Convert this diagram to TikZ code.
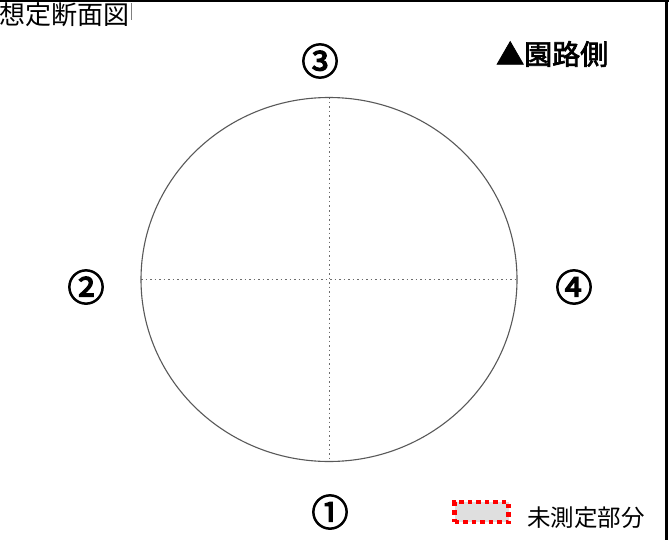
\documentclass[tikz,border=0pt]{standalone}
\usepackage{fontspec}
\newfontfamily\cjk[AutoFakeBold=2.5]{Noto Sans CJK JP}
\newfontfamily\cjkb[FakeBold=2.5]{Noto Sans CJK JP}
\newfontfamily\cjkn[FakeBold=3.5]{Noto Sans CJK JP}
\begin{document}
\begin{tikzpicture}[x=1pt,y=-1pt,
  num/.style={font=\cjkn\fontsize{37}{37}\selectfont, inner sep=0pt},
  axis/.style={draw=gray!85!black, line width=1pt, dash pattern=on 1.5pt off 3pt},
  rim/.style={draw=gray!70!black, line width=1.1pt}]
\useasboundingbox (0,0) rectangle (669,540);
\fill[white] (0,0) rectangle (669,540);
% frame pieces
\draw[black, line width=2.5pt] (0,1) -- (669,1);
\draw[black, line width=3pt] (666.5,0) -- (666.5,540);
\draw[gray, line width=1pt] (131,3) -- (131,20);
% title
\node[anchor=west, inner sep=0pt, font=\cjk\fontsize{26}{26}\selectfont] (title) at (-1,15) {想定断面図};
\node[anchor=west, inner sep=0pt, font=\cjkb\fontsize{28}{28}\selectfont] (side) at (496,54) {▲園路側};
% circle and axes
\coordinate (c) at (329,279.5);
\coordinate (t) at (329,97.5);
\coordinate (b) at (329,461.5);
\coordinate (l) at (141,279.5);
\coordinate (r) at (517,279.5);
\draw[axis] (t) -- (b);
\draw[axis] (l) -- (r);
\draw[rim] (c) ellipse [x radius=188, y radius=182];
% numbers
\node[num] (n3) at (320,61) {③};
\node[num] (n2) at (86,287) {②};
\node[num] (n4) at (574,287) {④};
\node[num] (n1) at (330,512) {①};
% legend
\node[draw=red, fill=gray!25, line width=4.5pt, dash pattern=on 4.5pt off 4pt,
  minimum width=54pt, minimum height=20pt, inner sep=0pt] (leg) at (481.5,512) {};
\node[anchor=west, inner sep=0pt, font=\cjk\fontsize{23.5}{23.5}\selectfont] (legt) at (527,518) {未測定部分};
\end{tikzpicture}
\end{document}
